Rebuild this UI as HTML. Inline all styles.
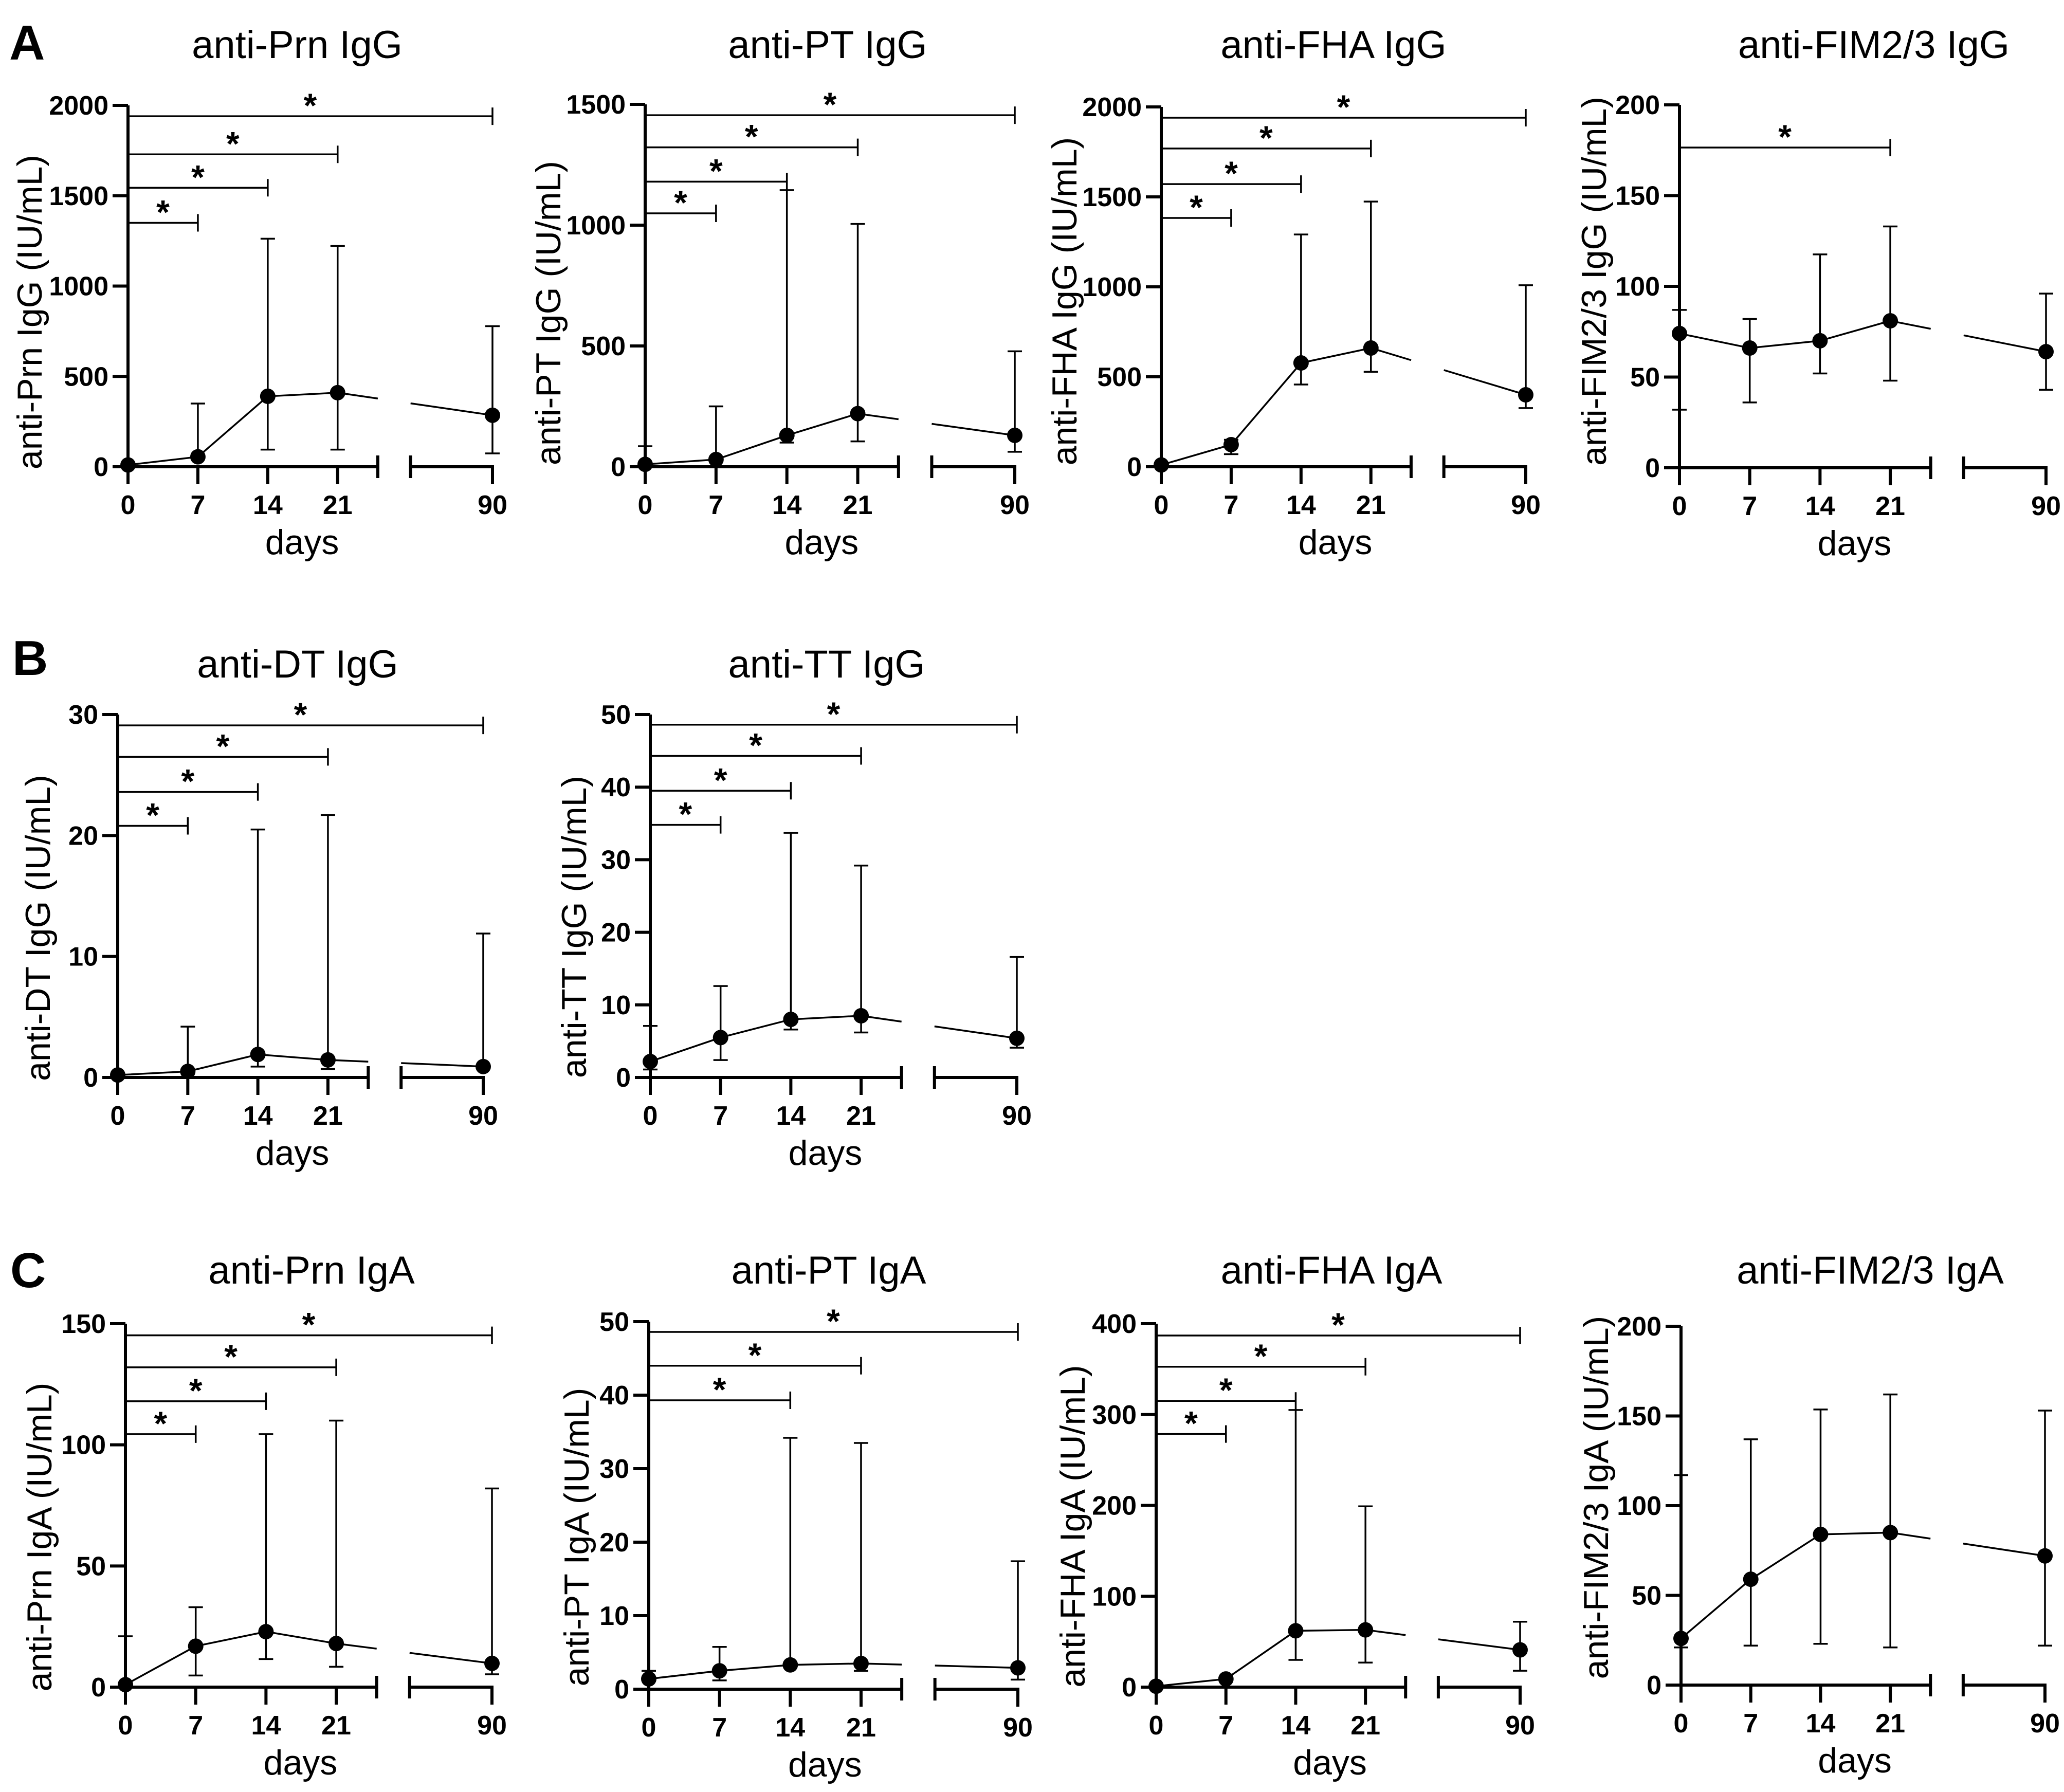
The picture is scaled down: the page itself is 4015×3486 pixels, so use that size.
<!DOCTYPE html>
<html><head><meta charset="utf-8">
<style>
html,body{margin:0;padding:0;background:#fff;}
svg{display:block;font-family:"Liberation Sans",Arial,sans-serif;}
</style></head>
<body>
<svg id="fig" width="4015" height="3486" viewBox="0 0 4015 3486" xmlns="http://www.w3.org/2000/svg">
<rect width="4015" height="3486" fill="#fff"/>
<text x="18" y="116" font-size="96" font-weight="bold">A</text>
<text x="24" y="1313" font-size="96" font-weight="bold">B</text>
<text x="20" y="2504" font-size="96" font-weight="bold">C</text>
</svg>
<script>
const days = [0, 7, 14, 21, 90];

const prnIgG_mean = [10, 55, 390, 410, 285];
const prnIgG_hi = [null, 350, 1262, 1222, 778];
const prnIgG_lo = [null, null, 95, 95, 74];
const prnIgG_ticks = [0, 500, 1000, 1500, 2000];
const prnIgG_brk = [1940, 1729, 1544, 1350];
const prnIgG_brkDay = [90, 21, 14, 7];

const ptIgG_mean = [10, 30, 130, 220, 130];
const ptIgG_hi = [85, 250, 1145, 1005, 478];
const ptIgG_lo = [null, null, 100, 105, 62];
const ptIgG_ticks = [0, 500, 1000, 1500];
const ptIgG_brk = [1455, 1322, 1180, 1049];
const ptIgG_brkDay = [90, 21, 14, 7];

const fhaIgG_mean = [10, 123, 577, 660, 400];
const fhaIgG_hi = [null, 150, 1291, 1474, 1009];
const fhaIgG_lo = [null, 70, 457, 528, 326];
const fhaIgG_ticks = [0, 500, 1000, 1500, 2000];
const fhaIgG_brk = [1940, 1769, 1571, 1383];
const fhaIgG_brkDay = [90, 21, 14, 7];

const fimIgG_mean = [74, 66, 70, 81, 64];
const fimIgG_hi = [87, 82, 117.6, 133, 96];
const fimIgG_lo = [32, 36, 52, 48, 43];
const fimIgG_ticks = [0, 50, 100, 150, 200];
const fimIgG_brk = [176.5];
const fimIgG_brkDay = [21];

const dtIgG_mean = [0.2, 0.5, 1.9, 1.45, 0.9];
const dtIgG_hi = [null, 4.2, 20.5, 21.7, 11.9];
const dtIgG_lo = [null, null, 0.9, 0.7, null];
const dtIgG_ticks = [0, 10, 20, 30];
const dtIgG_brk = [29.1, 26.5, 23.6, 20.8];
const dtIgG_brkDay = [90, 21, 14, 7];

const ttIgG_mean = [2.2, 5.5, 8.0, 8.5, 5.4];
const ttIgG_hi = [7.1, 12.6, 33.7, 29.2, 16.6];
const ttIgG_lo = [1.1, 2.4, 6.6, 6.2, 4.1];
const ttIgG_ticks = [0, 10, 20, 30, 40, 50];
const ttIgG_brk = [48.6, 44.3, 39.5, 34.8];
const ttIgG_brkDay = [90, 21, 14, 7];

const prnIgA_mean = [1, 16.9, 22.9, 18, 9.8];
const prnIgA_hi = [21, 33, 104.4, 110, 82];
const prnIgA_lo = [null, 4.8, 11.6, 8.4, 5.3];
const prnIgA_ticks = [0, 50, 100, 150];
const prnIgA_brk = [145.2, 132, 118, 104.4];
const prnIgA_brkDay = [90, 21, 14, 7];

const ptIgA_mean = [1.4, 2.5, 3.3, 3.5, 2.9];
const ptIgA_hi = [2.5, 5.75, 34.2, 33.5, 17.4];
const ptIgA_lo = [null, 1.2, null, 2.5, 1.3];
const ptIgA_ticks = [0, 10, 20, 30, 40, 50];
const ptIgA_brk = [48.6, 44, 39.3];
const ptIgA_brkDay = [90, 21, 14];

const fhaIgA_mean = [1, 9, 62, 63, 41];
const fhaIgA_hi = [null, null, 305, 199, 72];
const fhaIgA_lo = [null, null, 30, 27, 18];
const fhaIgA_ticks = [0, 100, 200, 300, 400];
const fhaIgA_brk = [387, 352.6, 315, 278.6];
const fhaIgA_brkDay = [90, 21, 14, 7];

const fimIgA_mean = [26, 59, 84, 85, 72];
const fimIgA_hi = [117, 137, 153.6, 162, 153];
const fimIgA_lo = [21, 22, 23, 21, 22];
const fimIgA_ticks = [0, 50, 100, 150, 200];
const fimIgA_brk = [];
const fimIgA_brkDay = [];

const NS = "http://www.w3.org/2000/svg";
const svg = document.getElementById("fig");
function mk(tag, attrs, parent) {
  const e = document.createElementNS(NS, tag);
  for (const k in attrs) e.setAttribute(k, attrs[k]);
  (parent || svg).appendChild(e);
  return e;
}

function panel(id, title, ylabel, mean, hi, lo, ticks, brk, brkDay, g) {
  const grp = mk("g", {});
  
  
  const s = g.w / 710;
  const ymax = ticks[ticks.length - 1];
  const Y = v => g.y0 - (v / ymax) * (g.y0 - g.top);
  const X = d => d <= 25 ? g.ax + d * 19.5 * s : g.ax + (552 + (d - 25) / 65 * 160) * s;
  const xBE = g.ax + 488 * s, xBS = g.ax + 552 * s, x90 = X(90);

  // title
  const t = mk("text", {x: g.tx, y: g.tb, "font-size": 76, "text-anchor": "middle"}, grp);
  t.textContent = title;
  
  

  // y label
  const yl = mk("text", {x: 0, y: 0, "font-size": 68, "text-anchor": "middle", "dominant-baseline": "central",
    transform: `translate(${g.ax + g.lx},${g.ly}) rotate(-90)`}, grp);
  yl.textContent = ylabel;
  
  

  // axes
  const ya = mk("line", {x1: g.ax, y1: g.top, x2: g.ax, y2: g.y0 + 3, stroke: "#000", "stroke-width": 6}, grp);
  
  
  const xa1 = mk("path", {d: `M${g.ax - 30},${g.y0} H${xBE} M${xBE},${g.y0 - 22} V${g.y0 + 22}`, stroke: "#000", "stroke-width": 6, fill: "none"}, grp);
  
  
  const xa2 = mk("path", {d: `M${xBS},${g.y0 - 22} V${g.y0 + 22} M${xBS},${g.y0} H${x90} V${g.y0 + 34}`, stroke: "#000", "stroke-width": 6, fill: "none"}, grp);
  
  

  ticks.forEach(v => {
    mk("line", {x1: g.ax - 30, y1: Y(v), x2: g.ax, y2: Y(v), stroke: "#000", "stroke-width": 6}, grp);
    const tl = mk("text", {x: g.ax - 38, y: Y(v) + 18, "font-size": 52, "font-weight": "bold", "text-anchor": "end"}, grp);
    tl.textContent = v;
    
    
  });
  days.forEach(d => {
    if (d !== 90) mk("line", {x1: X(d), y1: g.y0, x2: X(d), y2: g.y0 + 34, stroke: "#000", "stroke-width": 6}, grp);
    const tl = mk("text", {x: X(d), y: g.y0 + 92, "font-size": 52, "font-weight": "bold", "text-anchor": "middle"}, grp);
    tl.textContent = d;
    
    
  });
  const dl = mk("text", {x: g.ax + 340 * s, y: g.y0 + 170, "font-size": 68, "text-anchor": "middle"}, grp);
  dl.textContent = "days";
  
  

  // brackets
  brk.forEach((v, i) => {
    const xe = X(brkDay[i]), yy = Y(v);
    const b = mk("path", {d: `M${g.ax},${yy} H${xe} M${xe},${yy - 17} V${yy + 17}`, stroke: "#000", "stroke-width": 3.5, fill: "none"}, grp);
    
    
    const st = mk("text", {x: (g.ax + xe) / 2, y: yy + 2, "font-size": 66, "font-weight": "bold", "text-anchor": "middle"}, grp);
    st.textContent = "*";
    
    
  });

  // error bars
  days.forEach((d, i) => {
    const x = X(d), cw = 14;
    if (hi[i] != null) {
      const e = mk("path", {d: `M${x},${Y(mean[i])} V${Y(hi[i])} M${x - cw},${Y(hi[i])} H${x + cw}`, stroke: "#000", "stroke-width": 3.5, fill: "none"}, grp);
      
      
    }
    if (lo[i] != null) {
      const e = mk("path", {d: `M${x},${Y(mean[i])} V${Y(lo[i])} M${x - cw},${Y(lo[i])} H${x + cw}`, stroke: "#000", "stroke-width": 3.5, fill: "none"}, grp);
      
      
    }
  });

  // mean line (broken at axis break)
  const pts = days.map((d, i) => [X(d), Y(mean[i])]);
  const p3 = pts[3], p4 = pts[4];
  const yAt = x => p3[1] + (p4[1] - p3[1]) * (x - p3[0]) / (p4[0] - p3[0]);
  const dPath = `M${pts[0][0]},${pts[0][1]} L${pts[1][0]},${pts[1][1]} L${pts[2][0]},${pts[2][1]} L${p3[0]},${p3[1]} L${xBE},${yAt(xBE)} M${xBS},${yAt(xBS)} L${p4[0]},${p4[1]}`;
  const ln = mk("path", {d: dPath, stroke: "#000", "stroke-width": 3.5, fill: "none"}, grp);
  
  
  pts.forEach(p => {
    const c = mk("circle", {cx: p[0], cy: p[1], r: 15, fill: "#000"}, grp);
    
    
  });
}

panel("prn-igg", "anti-Prn IgG", "anti-Prn IgG (IU/mL)", prnIgG_mean, prnIgG_hi, prnIgG_lo, prnIgG_ticks, prnIgG_brk, prnIgG_brkDay,
  {ax: 249, y0: 908, top: 205, w: 707, tx: 578, tb: 113, lx: -191, ly: 607});
panel("pt-igg", "anti-PT IgG", "anti-PT IgG (IU/mL)", ptIgG_mean, ptIgG_hi, ptIgG_lo, ptIgG_ticks, ptIgG_brk, ptIgG_brkDay,
  {ax: 1255, y0: 908, top: 203, w: 717, tx: 1610, tb: 113, lx: -188, ly: 609});
panel("fha-igg", "anti-FHA IgG", "anti-FHA IgG (IU/mL)", fhaIgG_mean, fhaIgG_hi, fhaIgG_lo, fhaIgG_ticks, fhaIgG_brk, fhaIgG_brkDay,
  {ax: 2259, y0: 908, top: 208, w: 707, tx: 2594, tb: 113, lx: -188, ly: 586});
panel("fim-igg", "anti-FIM2/3 IgG", "anti-FIM2/3 IgG (IU/mL)", fimIgG_mean, fimIgG_hi, fimIgG_lo, fimIgG_ticks, fimIgG_brk, fimIgG_brkDay,
  {ax: 3267, y0: 910, top: 204, w: 711, tx: 3645, tb: 113, lx: -166, ly: 547});
panel("dt-igg", "anti-DT IgG", "anti-DT IgG (IU/mL)", dtIgG_mean, dtIgG_hi, dtIgG_lo, dtIgG_ticks, dtIgG_brk, dtIgG_brkDay,
  {ax: 229, y0: 2096, top: 1390, w: 709, tx: 579, tb: 1318, lx: -155, ly: 1805});
panel("tt-igg", "anti-TT IgG", "anti-TT IgG (IU/mL)", ttIgG_mean, ttIgG_hi, ttIgG_lo, ttIgG_ticks, ttIgG_brk, ttIgG_brkDay,
  {ax: 1265, y0: 2096, top: 1390, w: 711, tx: 1608, tb: 1318, lx: -148, ly: 1803});
panel("prn-iga", "anti-Prn IgA", "anti-Prn IgA (IU/mL)", prnIgA_mean, prnIgA_hi, prnIgA_lo, prnIgA_ticks, prnIgA_brk, prnIgA_brkDay,
  {ax: 244, y0: 3282, top: 2575, w: 711, tx: 606, tb: 2497, lx: -167, ly: 2990});
panel("pt-iga", "anti-PT IgA", "anti-PT IgA (IU/mL)", ptIgA_mean, ptIgA_hi, ptIgA_lo, ptIgA_ticks, ptIgA_brk, ptIgA_brkDay,
  {ax: 1262, y0: 3286, top: 2571, w: 716, tx: 1612, tb: 2497, lx: -140, ly: 2990});
panel("fha-iga", "anti-FHA IgA", "anti-FHA IgA (IU/mL)", fhaIgA_mean, fhaIgA_hi, fhaIgA_lo, fhaIgA_ticks, fhaIgA_brk, fhaIgA_brkDay,
  {ax: 2249, y0: 3282, top: 2575, w: 706, tx: 2590, tb: 2497, lx: -162, ly: 2969});
panel("fim-iga", "anti-FIM2/3 IgA", "anti-FIM2/3 IgA (IU/mL)", fimIgA_mean, fimIgA_hi, fimIgA_lo, fimIgA_ticks, fimIgA_brk, fimIgA_brkDay,
  {ax: 3270, y0: 3278, top: 2580, w: 706, tx: 3638, tb: 2497, lx: -165, ly: 2913});
</script>
</body></html>
